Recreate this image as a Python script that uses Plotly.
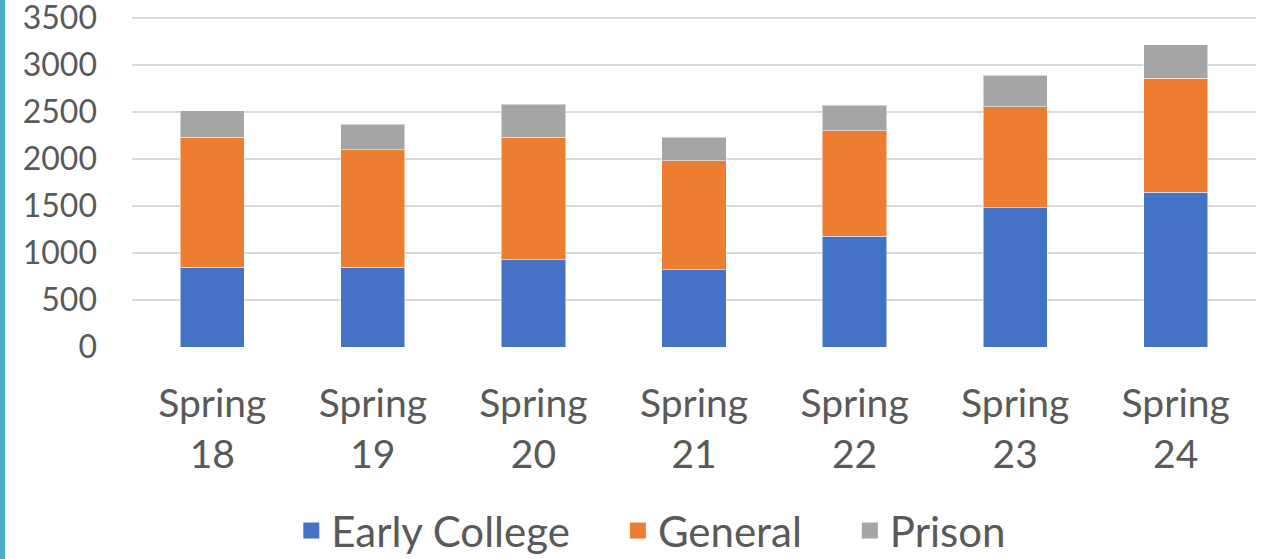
import plotly.graph_objects as go

categories = ["Spring<br>18", "Spring<br>19", "Spring<br>20", "Spring<br>21",
              "Spring<br>22", "Spring<br>23", "Spring<br>24"]
early_college = [848, 848, 930, 823, 1178, 1480, 1644]
general = [1383, 1248, 1301, 1159, 1120, 1077, 1216]
prison = [284, 274, 352, 249, 274, 331, 355]
y_ticks = [0, 500, 1000, 1500, 2000, 2500, 3000, 3500]

W, H = 1271, 559
ML, MR, MT, MB = 132, 15, 16, 212
PW = W - ML - MR
PH = H - MT - MB

FONT = "Lato"
TXT = "#595959"
PAD = "&nbsp;" * 4

series = [("Early College", early_college, "#4472C4", PAD),
          ("General", general, "#ED7D31", PAD),
          ("Prison", prison, "#A5A5A5", "")]

fig = go.Figure()
for name, vals, col, _ in series:
    fig.add_trace(go.Bar(x=categories, y=vals, name=name, showlegend=False,
                         legendgroup=name,
                         marker=dict(color=col, line=dict(color="rgba(255,255,255,0.5)", width=1))))
for name, vals, col, pad in series:
    fig.add_trace(go.Scatter(x=[None], y=[None], mode="markers", name=name + pad,
                             legendgroup=name,
                             marker=dict(symbol="square", size=24, color=col)))

fig.update_layout(
    width=W, height=H, barmode="stack", bargap=0.6,
    margin=dict(l=ML, r=MR, t=MT, b=MB, autoexpand=False),
    plot_bgcolor="white", paper_bgcolor="white",
    font=dict(family=FONT, color=TXT),
    xaxis=dict(showgrid=False, showline=False, zeroline=False,
               tickfont=dict(size=39, color=TXT),
               ticklabelstandoff=30, automargin=False),
    yaxis=dict(range=[0, 3520], tickvals=y_ticks, showgrid=True, gridcolor="#D9D9D9",
               gridwidth=2, zeroline=False, showline=False, ticklabeloverflow="allow",
               tickfont=dict(size=32, color=TXT), ticklabelstandoff=34, automargin=False),
    legend=dict(orientation="h", x=0.462, xanchor="center", y=-0.555, yanchor="middle",
                font=dict(size=42, color=TXT), traceorder="normal",
                itemwidth=30, tracegroupgap=0),
    showlegend=True,
)

fig.add_shape(type="rect", xref="paper", yref="paper",
              x0=(0 - ML) / PW, x1=(5 - ML) / PW,
              y0=-MB / PH, y1=1 + MT / PH,
              fillcolor="#4BACC6", line=dict(width=0), layer="above")

fig.write_html("out.html", config={"displayModeBar": False},
               post_script="document.body.style.margin='0';document.body.style.overflow='hidden';")
